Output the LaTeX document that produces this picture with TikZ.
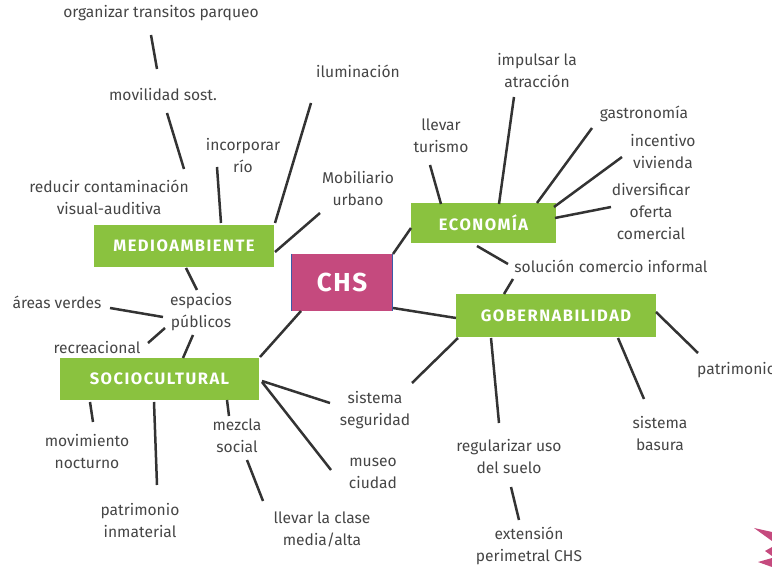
\documentclass[tikz,border=0pt]{standalone}
\usepackage{fontspec}
\setmainfont{Fira Sans}
\newfontfamily\boxfont[LetterSpace=9]{Fira Sans}
\newfontfamily\chsfont[LetterSpace=6]{Fira Sans}
\definecolor{gr}{HTML}{8AC23F}
\definecolor{pk}{HTML}{C54A7E}
\definecolor{tx}{HTML}{454545}
\definecolor{ln}{HTML}{333333}
\definecolor{bl}{HTML}{3A5BA8}
\begin{document}
\begin{tikzpicture}[x=1pt,y=-1pt,
  lbl/.style={text=tx, font=\fontsize{15.6}{22}\selectfont, align=center, inner sep=0pt},
  box/.style={fill=gr, text=white, font=\boxfont\fontsize{16.5}{18}\bfseries\selectfont, inner sep=0pt},
  conn/.style={draw=ln, line width=2.5pt}]
\useasboundingbox (0,0) rectangle (772,569);
% boxes
\node[box, minimum width=180pt, minimum height=42pt] (med) at (184,246) {MEDIOAMBIENTE};
\node[box, minimum width=145pt, minimum height=40pt] (eco) at (483.5,223) {ECONOMÍA};
\node[box, minimum width=200pt, minimum height=43pt] (gob) at (556,315.5) {GOBERNABILIDAD};
\node[box, minimum width=199pt, minimum height=42pt] (soc) at (159.5,379) {SOCIOCULTURAL};
\node[fill=pk, text=white, font=\chsfont\fontsize{26}{28}\bfseries\selectfont, minimum width=100pt, minimum height=57pt, inner sep=0pt] (chs) at (342,282.5) {CHS};
\draw[bl, line width=1pt] (chs.north west) -- (chs.south west) (chs.north east) -- (chs.south east);
% labels
\node[lbl] (org) at (161,13) {organizar transitos parqueo};
\node[lbl] (mov) at (163,95) {movilidad sost.};
\node[lbl] (ilu) at (358,71) {iluminación};
\node[lbl] (inc) at (243,156) {incorporar\\río};
\node[lbl] (red) at (109,197) {reducir contaminación\\visual-auditiva};
\node[lbl] (mob) at (358,189) {Mobiliario\\urbano};
\node[lbl] (tur) at (441,136) {llevar\\turismo};
\node[lbl] (imp) at (537,71) {impulsar la\\atracción};
\node[lbl] (gas) at (644,114) {gastronomía};
\node[lbl] (viv) at (663,152) {incentivo\\vivienda};
\node[lbl] (div) at (651,212) {diversificar\\oferta\\comercial};
\node[lbl] (sol) at (611,266) {solución comercio informal};
\node[lbl] (are) at (57,302) {áreas verdes};
\node[lbl] (esp) at (201,312) {espacios\\públicos};
\node[lbl] (rec) at (97,348) {recreacional};
\node[lbl, anchor=west] (pat) at (697,370) {patrimonio};
\node[lbl] (seg) at (375,410) {sistema\\seguridad};
\node[lbl] (bas) at (660,434) {sistema\\basura};
\node[lbl] (mez) at (237,436) {mezcla\\social};
\node[lbl] (mus) at (373,473) {museo\\ciudad};
\node[lbl] (noc) at (87,452) {movimiento\\nocturno};
\node[lbl] (reg) at (509,457) {regularizar uso\\del suelo};
\node[lbl] (inm) at (140,521) {patrimonio\\inmaterial};
\node[lbl] (cla) at (322,529) {llevar la clase\\media/alta};
\node[lbl] (ext) at (529,546) {extensión\\perimetral CHS};
% connector end points
\coordinate (a1) at (151,35);  \coordinate (b1) at (157,69);
\coordinate (a2) at (167,113); \coordinate (b2) at (184,169);
\coordinate (a3) at (311,103); \coordinate (b3) at (275,223);
\coordinate (a4) at (217,167); \coordinate (b4) at (221,223);
\coordinate (a5) at (275,252); \coordinate (b5) at (320,213);
\coordinate (a6) at (186,268); \coordinate (b6) at (197,290);
\coordinate (a7) at (110,308); \coordinate (b7) at (163,317);
\coordinate (a8) at (148,343); \coordinate (b8) at (165,328);
\coordinate (a9) at (193,335); \coordinate (b9) at (183,358);
\coordinate (a10) at (260,357); \coordinate (b10) at (301,311);
\coordinate (a11) at (262,381); \coordinate (b11) at (330,403);
\coordinate (a12) at (262,382); \coordinate (b12) at (331,470);
\coordinate (a13) at (227,400); \coordinate (b13) at (229,416);
\coordinate (a14) at (247,460); \coordinate (b14) at (263,501);
\coordinate (a15) at (90,402);  \coordinate (b15) at (93,422);
\coordinate (a16) at (154,402); \coordinate (b16) at (157,485);
\coordinate (a17) at (393,254); \coordinate (b17) at (411,228);
\coordinate (a18) at (393,308); \coordinate (b18) at (456,318);
\coordinate (a19) at (430,165); \coordinate (b19) at (441,204);
\coordinate (a20) at (514,97);  \coordinate (b20) at (499,204);
\coordinate (a21) at (592,128); \coordinate (b21) at (537,203);
\coordinate (a22) at (622,157); \coordinate (b22) at (554,207);
\coordinate (a23) at (611,207); \coordinate (b23) at (555,218);
\coordinate (a24) at (477,246); \coordinate (b24) at (508,264);
\coordinate (a25) at (513,279); \coordinate (b25) at (504,294);
\coordinate (a26) at (656,312); \coordinate (b26) at (698,353);
\coordinate (a27) at (618,338); \coordinate (b27) at (644,399);
\coordinate (a28) at (491,338); \coordinate (b28) at (499,423);
\coordinate (a29) at (458,338); \coordinate (b29) at (412,383);
\coordinate (a30) at (511,487); \coordinate (b30) at (519,520);
\foreach \i in {1,...,30} {\draw[conn] (a\i) -- (b\i);}
% corner decoration
\fill[pk] (754,528) -- (772,532) -- (772,541) -- cycle;
\fill[pk] (765,551) -- (772,547) -- (772,556) -- cycle;
\fill[pk] (758,562) -- (772,558) -- (772,567) -- cycle;
\end{tikzpicture}
\end{document}
